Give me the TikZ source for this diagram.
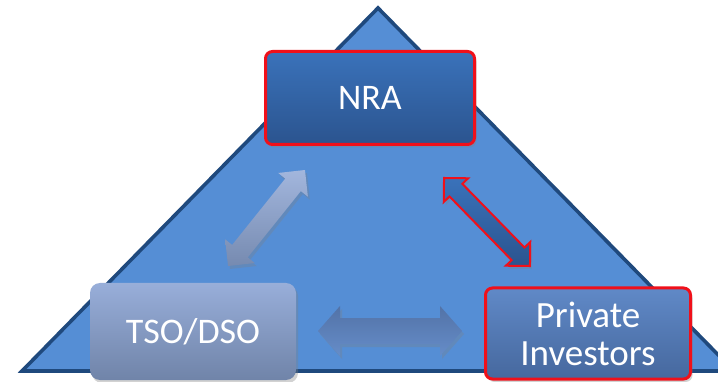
\documentclass[tikz,border=0pt]{standalone}
\usepackage{fontspec}
\setmainfont{Carlito}
\usetikzlibrary{shadows,calc}

\definecolor{triFill}{HTML}{558ED5}
\definecolor{triLine}{HTML}{1F497D}
\definecolor{nraTop}{HTML}{3A72BA}
\definecolor{nraBot}{HTML}{2B548F}
\definecolor{tsoTop}{HTML}{98AED9}
\definecolor{tsoBot}{HTML}{7084A9}
\definecolor{pivTop}{HTML}{6089C7}
\definecolor{pivBot}{HTML}{46689E}
\definecolor{redLine}{HTML}{F0101A}

% block double arrow centred at (#1,#2), turned by #3, length #4,
% shaft half-width #5, head half-width #6, head length #7, style #8
\newcommand{\blockarrow}[8]{%
  \begin{scope}[shift={(#1,#2)}, rotate=#3]
    \path[#8] (-#4/2,0) -- (-#4/2+#7,#6) -- (-#4/2+#7,#5) -- (#4/2-#7,#5)
      -- (#4/2-#7,#6) -- (#4/2,0) -- (#4/2-#7,-#6) -- (#4/2-#7,-#5)
      -- (-#4/2+#7,-#5) -- (-#4/2+#7,-#6) -- cycle;
  \end{scope}}

\tikzset{
  box/.style={rounded corners=7pt, text=white, align=center, inner sep=0pt,
    font=\fontsize{36}{38}\selectfont,
    drop shadow={opacity=0.35, shadow xshift=2pt, shadow yshift=-3pt}},
  redframe/.style={draw=redLine, line width=3pt},
  arrowshadow/.style={drop shadow={opacity=0.3, shadow xshift=2pt, shadow yshift=-3pt}},
}

\begin{document}
\begin{tikzpicture}[x=1pt, y=-1pt]
  \useasboundingbox (0,0) rectangle (718,382);
  \clip (0,0) rectangle (718,382);
  \fill[white] (0,0) rectangle (718,382);

  % pyramid
  \coordinate (apex) at (378,8);
  \coordinate (baseL) at (22,371);
  \coordinate (baseR) at (734,371);
  \draw[fill=triFill, draw=triLine, line width=3.6pt, line join=miter]
    (apex) -- (baseR) -- (baseL) -- cycle;

  % actors
  \node[box, redframe, top color=nraTop, bottom color=nraBot,
        minimum width=209pt, minimum height=93pt] (nra) at (370,98) {NRA};
  \node[box, rounded corners=10pt, top color=tsoTop, bottom color=tsoBot,
        minimum width=206pt, minimum height=97pt] (tso) at (193,331.5) {TSO/DSO};
  \node[box, redframe, top color=pivTop, bottom color=pivBot,
        font=\fontsize{37}{38}\selectfont,
        minimum width=205pt, minimum height=91pt] (piv) at (588,333.5)
        {Private\\Investors};

  % relations
  \blockarrow{266.5}{218}{51.3}{123}{10}{19}{19}
    {arrowshadow, top color=tsoTop!90!white, bottom color=tsoBot!85!tsoTop, shading angle=0}
  \blockarrow{487}{222}{-45.7}{123}{9}{17}{17}
    {arrowshadow, draw=redLine, line width=2pt, top color=nraTop, bottom color=nraBot, shading angle=0}
  \blockarrow{390}{331}{0}{144}{13}{25}{22}
    {arrowshadow, top color=pivBot!85!tsoTop, bottom color=pivTop!90!tsoTop}
\end{tikzpicture}
\end{document}
